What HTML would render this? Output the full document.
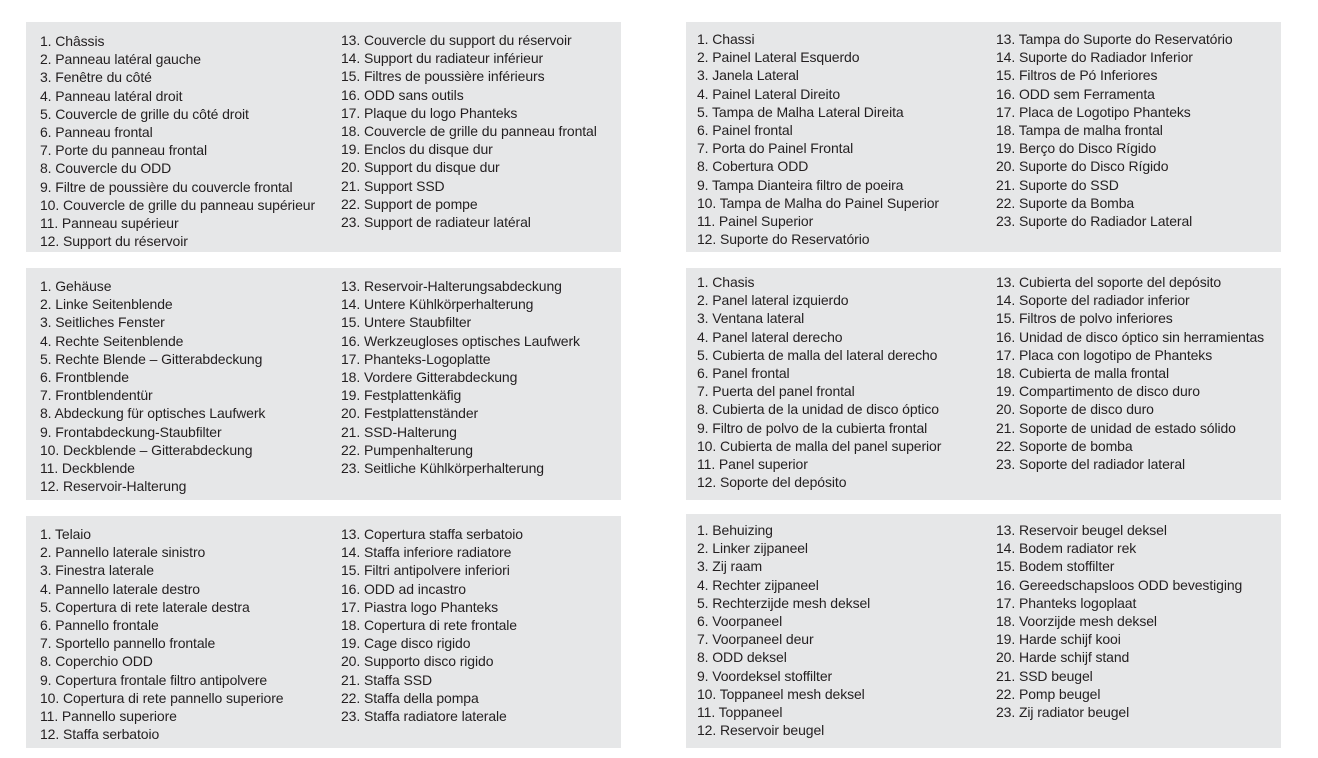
<!DOCTYPE html><html><head><meta charset="utf-8"><style>
body{margin:0;width:1318px;height:758px;background:#fff;position:relative;overflow:hidden;font-family:"Liberation Sans",sans-serif;}
.b{position:absolute;background:#e6e7e8;width:595px;}
.c{position:absolute;font-size:14px;line-height:18.2px;color:#231f20;letter-spacing:-0.1px;white-space:nowrap;}
</style></head><body>
<div class="b" style="left:26px;top:22px;height:230px"></div>
<div class="b" style="left:26px;top:268px;height:232px"></div>
<div class="b" style="left:26px;top:516px;height:232px"></div>
<div class="b" style="left:686px;top:22px;height:230px"></div>
<div class="b" style="left:686px;top:268px;height:232px"></div>
<div class="b" style="left:686px;top:514px;height:234px"></div>

<div class="c" style="left:40px;top:32px">1. Châssis<br>2. Panneau latéral gauche<br>3. Fenêtre du côté<br>4. Panneau latéral droit<br>5. Couvercle de grille du côté droit<br>6. Panneau frontal<br>7. Porte du panneau frontal<br>8. Couvercle du ODD<br>9. Filtre de poussière du couvercle frontal<br>10. Couvercle de grille du panneau supérieur<br>11. Panneau supérieur<br>12. Support du réservoir</div>
<div class="c" style="left:341px;top:31px">13. Couvercle du support du réservoir<br>14. Support du radiateur inférieur<br>15. Filtres de poussière inférieurs<br>16. ODD sans outils<br>17. Plaque du logo Phanteks<br>18. Couvercle de grille du panneau frontal<br>19. Enclos du disque dur<br>20. Support du disque dur<br>21. Support SSD<br>22. Support de pompe<br>23. Support de radiateur latéral</div>

<div class="c" style="left:40px;top:277px">1. Gehäuse<br>2. Linke Seitenblende<br>3. Seitliches Fenster<br>4. Rechte Seitenblende<br>5. Rechte Blende – Gitterabdeckung<br>6. Frontblende<br>7. Frontblendentür<br>8. Abdeckung für optisches Laufwerk<br>9. Frontabdeckung-Staubfilter<br>10. Deckblende – Gitterabdeckung<br>11. Deckblende<br>12. Reservoir-Halterung</div>
<div class="c" style="left:341px;top:277px">13. Reservoir-Halterungsabdeckung<br>14. Untere Kühlkörperhalterung<br>15. Untere Staubfilter<br>16. Werkzeugloses optisches Laufwerk<br>17. Phanteks-Logoplatte<br>18. Vordere Gitterabdeckung<br>19. Festplattenkäfig<br>20. Festplattenständer<br>21. SSD-Halterung<br>22. Pumpenhalterung<br>23. Seitliche Kühlkörperhalterung</div>

<div class="c" style="left:40px;top:525px">1. Telaio<br>2. Pannello laterale sinistro<br>3. Finestra laterale<br>4. Pannello laterale destro<br>5. Copertura di rete laterale destra<br>6. Pannello frontale<br>7. Sportello pannello frontale<br>8. Coperchio ODD<br>9. Copertura frontale filtro antipolvere<br>10. Copertura di rete pannello superiore<br>11. Pannello superiore<br>12. Staffa serbatoio</div>
<div class="c" style="left:341px;top:525px">13. Copertura staffa serbatoio<br>14. Staffa inferiore radiatore<br>15. Filtri antipolvere inferiori<br>16. ODD ad incastro<br>17. Piastra logo Phanteks<br>18. Copertura di rete frontale<br>19. Cage disco rigido<br>20. Supporto disco rigido<br>21. Staffa SSD<br>22. Staffa della pompa<br>23. Staffa radiatore laterale</div>

<div class="c" style="left:697px;top:30px">1. Chassi<br>2. Painel Lateral Esquerdo<br>3. Janela Lateral<br>4. Painel Lateral Direito<br>5. Tampa de Malha Lateral Direita<br>6. Painel frontal<br>7. Porta do Painel Frontal<br>8. Cobertura ODD<br>9. Tampa Dianteira filtro de poeira<br>10. Tampa de Malha do Painel Superior<br>11. Painel Superior<br>12. Suporte do Reservatório</div>
<div class="c" style="left:996px;top:30px">13. Tampa do Suporte do Reservatório<br>14. Suporte do Radiador Inferior<br>15. Filtros de Pó Inferiores<br>16. ODD sem Ferramenta<br>17. Placa de Logotipo Phanteks<br>18. Tampa de malha frontal<br>19. Berço do Disco Rígido<br>20. Suporte do Disco Rígido<br>21. Suporte do SSD<br>22. Suporte da Bomba<br>23. Suporte do Radiador Lateral</div>

<div class="c" style="left:697px;top:273px">1. Chasis<br>2. Panel lateral izquierdo<br>3. Ventana lateral<br>4. Panel lateral derecho<br>5. Cubierta de malla del lateral derecho<br>6. Panel frontal<br>7. Puerta del panel frontal<br>8. Cubierta de la unidad de disco óptico<br>9. Filtro de polvo de la cubierta frontal<br>10. Cubierta de malla del panel superior<br>11. Panel superior<br>12. Soporte del depósito</div>
<div class="c" style="left:996px;top:273px">13. Cubierta del soporte del depósito<br>14. Soporte del radiador inferior<br>15. Filtros de polvo inferiores<br>16. Unidad de disco óptico sin herramientas<br>17. Placa con logotipo de Phanteks<br>18. Cubierta de malla frontal<br>19. Compartimento de disco duro<br>20. Soporte de disco duro<br>21. Soporte de unidad de estado sólido<br>22. Soporte de bomba<br>23. Soporte del radiador lateral</div>

<div class="c" style="left:697px;top:521px">1. Behuizing<br>2. Linker zijpaneel<br>3. Zij raam<br>4. Rechter zijpaneel<br>5. Rechterzijde mesh deksel<br>6. Voorpaneel<br>7. Voorpaneel deur<br>8. ODD deksel<br>9. Voordeksel stoffilter<br>10. Toppaneel mesh deksel<br>11. Toppaneel<br>12. Reservoir beugel</div>
<div class="c" style="left:996px;top:521px">13. Reservoir beugel deksel<br>14. Bodem radiator rek<br>15. Bodem stoffilter<br>16. Gereedschapsloos ODD bevestiging<br>17. Phanteks logoplaat<br>18. Voorzijde mesh deksel<br>19. Harde schijf kooi<br>20. Harde schijf stand<br>21. SSD beugel<br>22. Pomp beugel<br>23. Zij radiator beugel</div>
</body></html>
